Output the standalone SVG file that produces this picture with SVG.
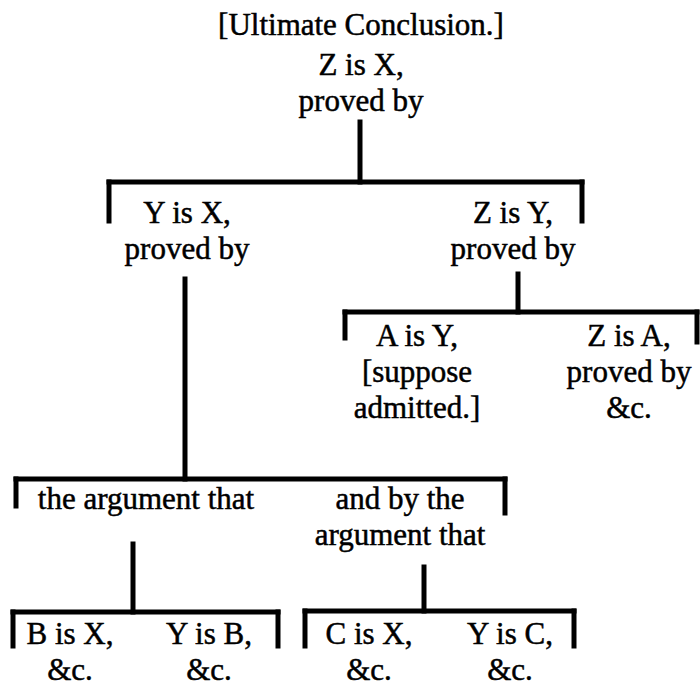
<svg xmlns="http://www.w3.org/2000/svg" width="700" height="688" viewBox="0 0 700 688">
<style>
text{font-family:'Liberation Serif','Times New Roman','DejaVu Serif',serif;font-size:31px;fill:#000;stroke:#000;stroke-width:0.5;text-anchor:middle}
.c line{stroke:#000;stroke-width:5;stroke-linecap:square}
</style>
<rect width="700" height="688" fill="#fff"/>
<g id="connectors" class="c">
<line x1="360" y1="122" x2="360" y2="182"/>
<line x1="109" y1="182" x2="582" y2="182"/>
<line x1="109" y1="182" x2="109" y2="221"/>
<line x1="582" y1="182" x2="582" y2="221"/>
<line x1="185" y1="279" x2="185" y2="479"/>
<line x1="16" y1="479" x2="505" y2="479"/>
<line x1="16" y1="479" x2="16" y2="506"/>
<line x1="505" y1="479" x2="505" y2="513"/>
<line x1="518" y1="274" x2="518" y2="312"/>
<line x1="345" y1="312" x2="697" y2="312"/>
<line x1="345" y1="312" x2="345" y2="338"/>
<line x1="697" y1="312" x2="697" y2="342"/>
<line x1="133" y1="544" x2="133" y2="612"/>
<line x1="13" y1="612" x2="278" y2="612"/>
<line x1="13" y1="612" x2="13" y2="646"/>
<line x1="278" y1="612" x2="278" y2="646"/>
<line x1="424" y1="567" x2="424" y2="611"/>
<line x1="305" y1="611" x2="574" y2="611"/>
<line x1="305" y1="611" x2="305" y2="646"/>
<line x1="574" y1="611" x2="574" y2="646"/>
</g>
<g id="root"><text x="361" y="35">[Ultimate Conclusion.]</text><text x="361" y="75">Z is X,</text><text x="361" y="111">proved by</text></g>
<g id="yx"><text x="187" y="223">Y is X,</text><text x="187" y="259">proved by</text></g>
<g id="zy"><text x="513" y="223">Z is Y,</text><text x="513" y="259">proved by</text></g>
<g id="ay"><text x="417" y="346">A is Y,</text><text x="417" y="382">[suppose</text><text x="417" y="418">admitted.]</text></g>
<g id="za"><text x="629" y="346">Z is A,</text><text x="629" y="382">proved by</text><text x="629" y="418">&amp;c.</text></g>
<g id="arg1"><text x="146" y="509">the argument that</text></g>
<g id="arg2"><text x="400" y="509">and by the</text><text x="400" y="545">argument that</text></g>
<g id="bx"><text x="70" y="644">B is X,</text><text x="70" y="680">&amp;c.</text></g>
<g id="yb"><text x="209" y="644">Y is B,</text><text x="209" y="680">&amp;c.</text></g>
<g id="cx"><text x="369" y="644">C is X,</text><text x="369" y="680">&amp;c.</text></g>
<g id="yc"><text x="510" y="644">Y is C,</text><text x="510" y="680">&amp;c.</text></g>
</svg>
